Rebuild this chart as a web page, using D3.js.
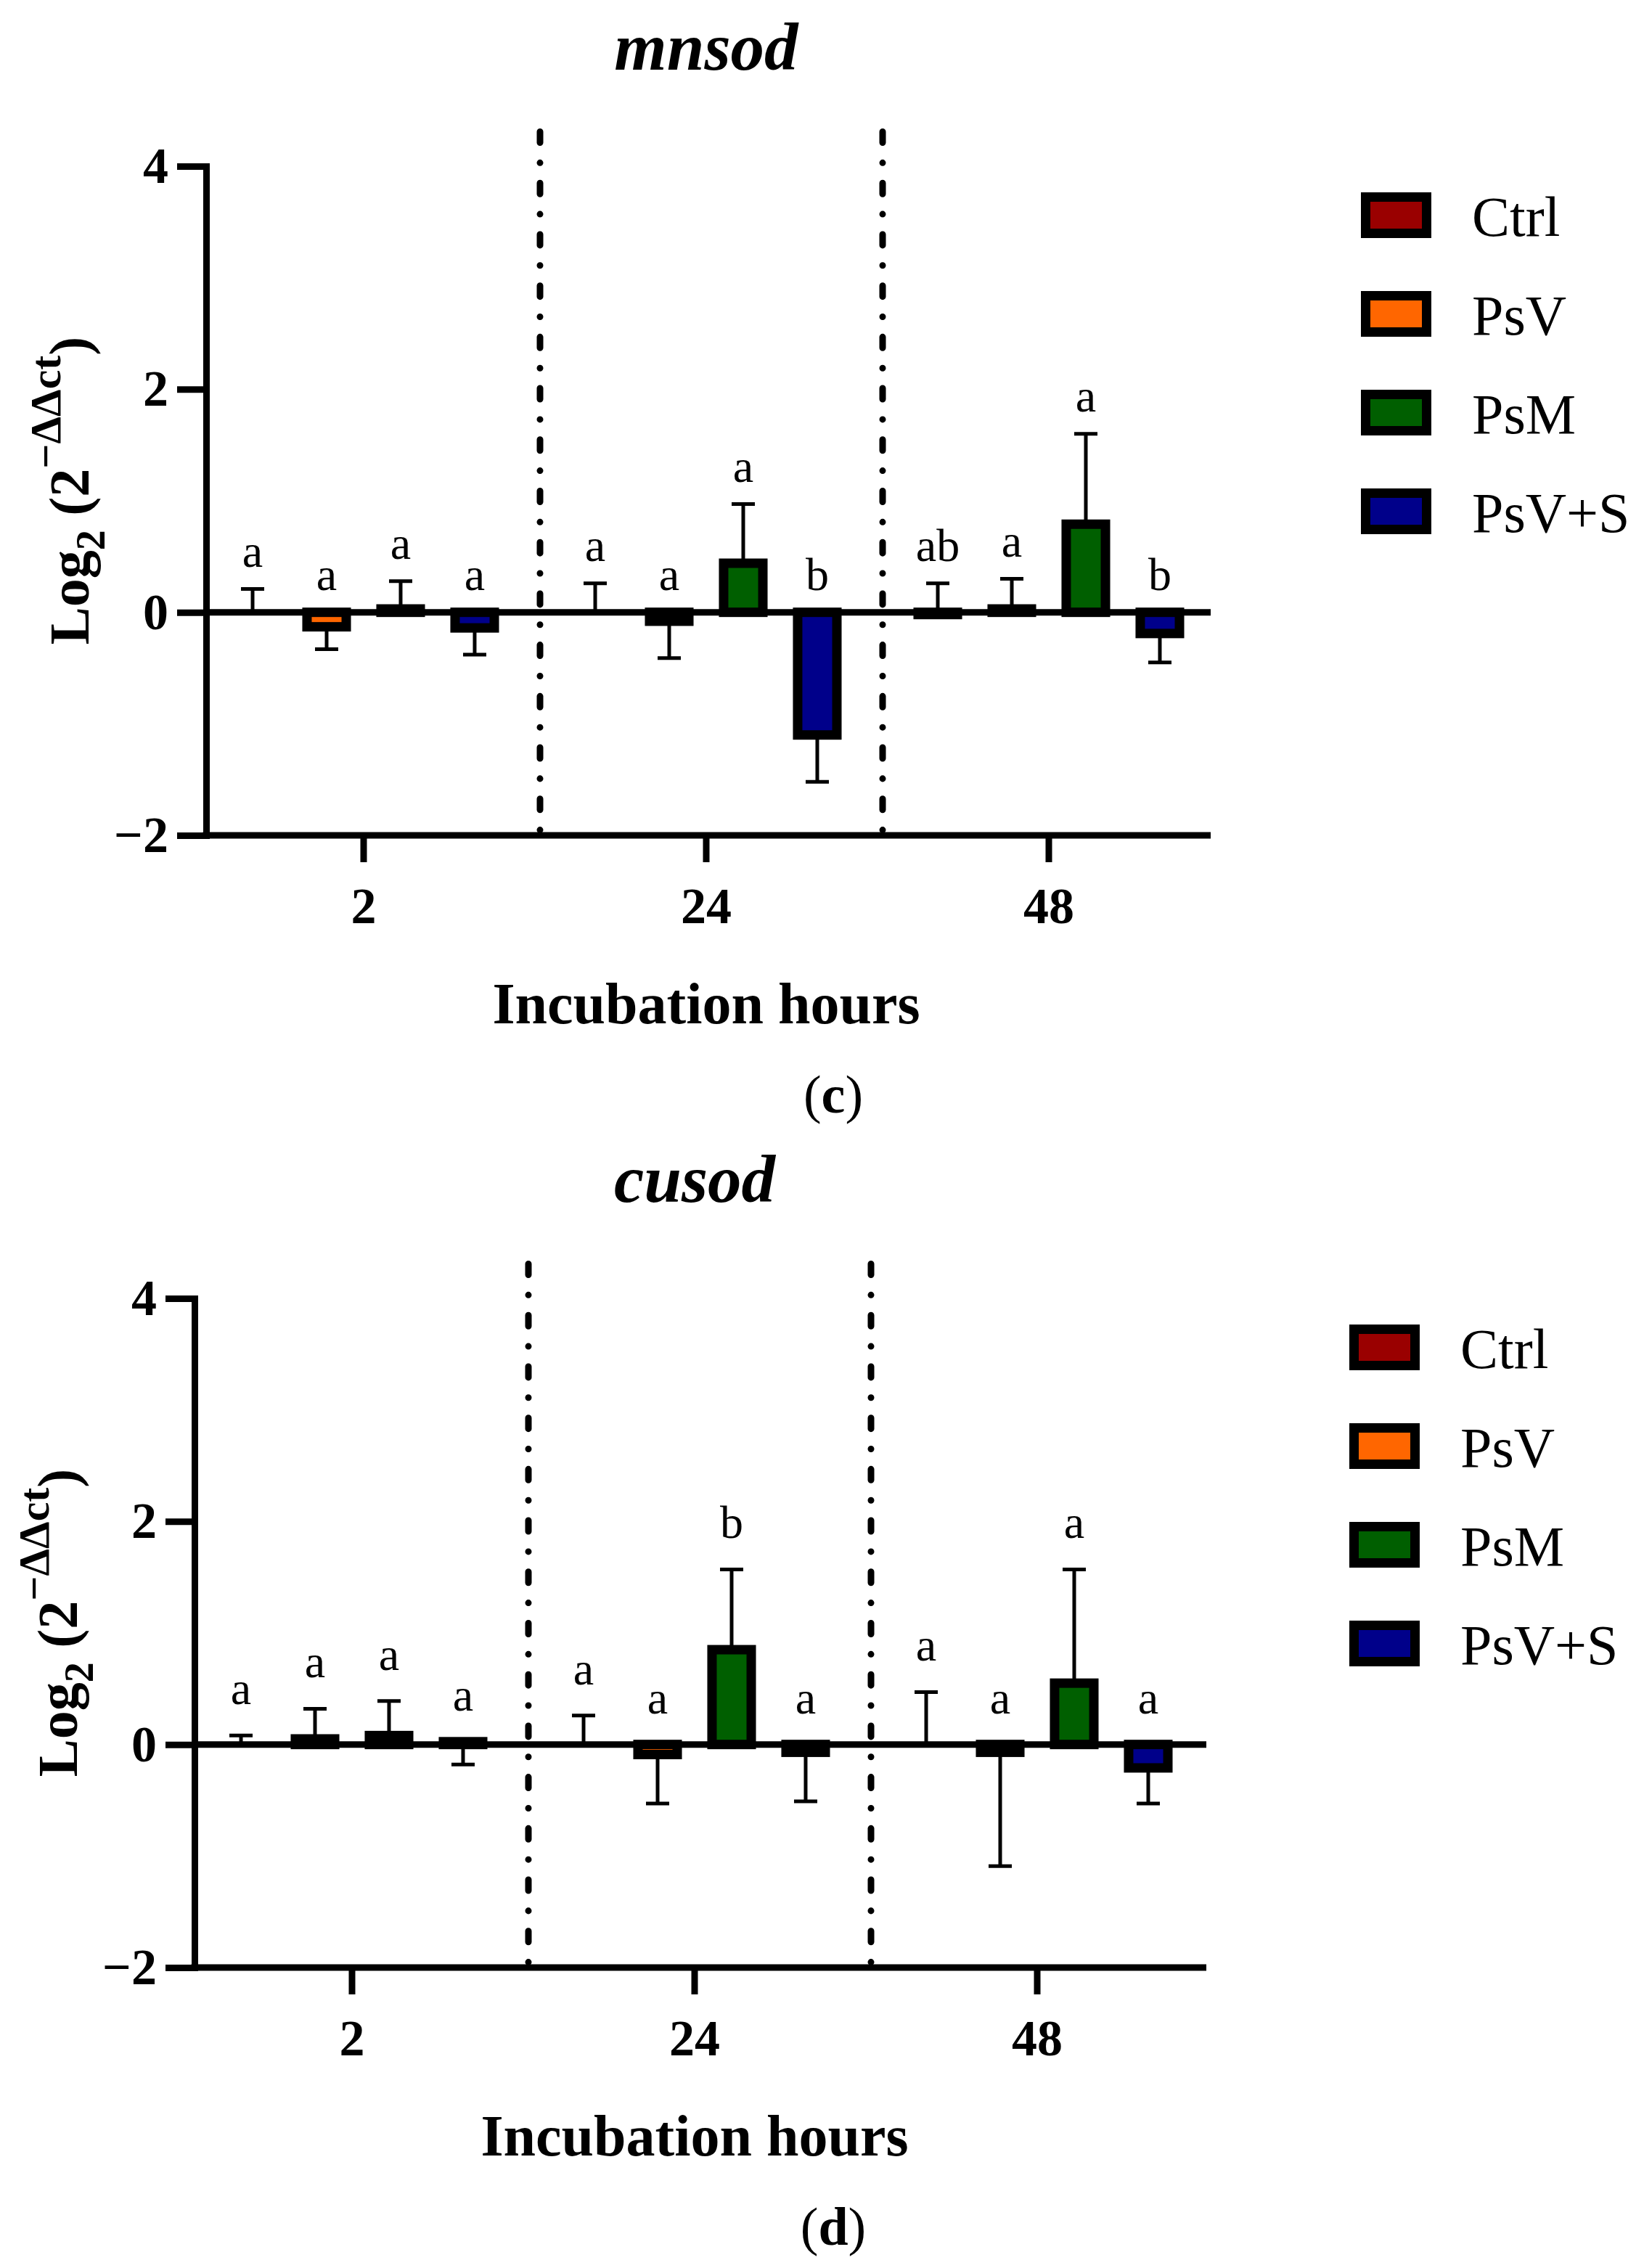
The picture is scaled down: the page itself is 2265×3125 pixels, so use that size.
<!DOCTYPE html>
<html>
<head>
<meta charset="utf-8">
<script src="https://cdn.jsdelivr.net/npm/d3@7"></script>
<style>
  html, body { margin: 0; padding: 0; background: #fff; }
  svg { display: block; }
  text { font-family: "Liberation Serif", "Times New Roman", serif; fill: #000; }
</style>
</head>
<body>
<div id="chart"></div>
<script>
// ---------------- data ----------------
const hours = ["2", "24", "48"];
const treatments = ["Ctrl", "PsV", "PsM", "PsV+S"];
const treatmentColors = ["#9a0000", "#ff6600", "#005f00", "#00008a"];
const yTickValues = [4, 2, 0, -2];

// mnsod (panel c): mean per hour x treatment, error-bar end, significance letters
const mnsodMean = [
  [0, -0.13, 0.03, -0.14],
  [0, -0.08, 0.44, -1.10],
  [-0.02, 0.03, 0.79, -0.19]
];
const mnsodErrEnd = [
  [0.21, -0.33, 0.28, -0.38],
  [0.26, -0.41, 0.97, -1.52],
  [0.26, 0.30, 1.60, -0.45]
];
const mnsodLetters = [
  ["a", "a", "a", "a"],
  ["a", "a", "a", "b"],
  ["ab", "a", "a", "b"]
];

// cusod (panel d)
const cusodMean = [
  [0, 0.05, 0.08, 0.025],
  [0, -0.09, 0.85, -0.07],
  [0, -0.07, 0.55, -0.21]
];
const cusodErrEnd = [
  [0.08, 0.32, 0.39, -0.18],
  [0.26, -0.53, 1.57, -0.51],
  [0.47, -1.09, 1.57, -0.53]
];
const cusodLetters = [
  ["a", "a", "a", "a"],
  ["a", "a", "b", "a"],
  ["a", "a", "a", "a"]
];

// ---------------- drawing ----------------
const W = 2265, H = 3125;
const svg = d3.select("#chart").append("svg")
  .attr("width", W).attr("height", H)
  .attr("viewBox", `0 0 ${W} ${H}`);
svg.append("rect").attr("width", W).attr("height", H).attr("fill", "#fff");

function drawPanel(cfg) {
  const { title, mean, errEnd, letters, axisX, axisEnd, yTop, yBottom, caption, letterLift } = cfg;
  const g = svg.append("g");

  const y = d3.scaleLinear().domain([-2, 4]).range([yBottom, yTop]);
  const xg = d3.scaleBand().domain(hours).range([axisX - 19, axisX + 1397]).padding(0);
  const xi = d3.scaleBand().domain(treatments).range([0, xg.bandwidth()])
    .paddingInner(0.47).paddingOuter(0.549);
  const color = d3.scaleOrdinal().domain(treatments).range(treatmentColors);

  const rows = [];
  hours.forEach((h, hi) => treatments.forEach((t, ti) => {
    rows.push({ h, t, v: mean[hi][ti], e: errEnd[hi][ti], lab: letters[hi][ti] });
  }));
  const cx = d => xg(d.h) + xi(d.t) + xi.bandwidth() / 2;

  // dash-dot separators
  hours.slice(1).forEach(h => {
    g.append("line")
      .attr("x1", xg(h) + 7).attr("x2", xg(h) + 7)
      .attr("y1", y(4) - 47.5).attr("y2", y(-2))
      .attr("stroke", "#000").attr("stroke-width", 9)
      .attr("stroke-linecap", "round")
      .attr("stroke-dasharray", "15 27.85 0.01 27.85");
  });

  // error bars (under bars)
  const eb = g.append("g").attr("stroke", "#000").attr("stroke-width", 5);
  eb.selectAll("line.stem").data(rows).join("line").attr("class", "stem")
    .attr("x1", cx).attr("x2", cx)
    .attr("y1", d => y(d.v)).attr("y2", d => y(d.e));
  eb.selectAll("line.cap").data(rows).join("line").attr("class", "cap")
    .attr("x1", d => cx(d) - 16).attr("x2", d => cx(d) + 16)
    .attr("y1", d => y(d.e)).attr("y2", d => y(d.e));

  // zero line
  g.append("line")
    .attr("x1", axisX).attr("x2", axisEnd)
    .attr("y1", y(0)).attr("y2", y(0))
    .attr("stroke", "#000").attr("stroke-width", 9);

  // bars
  g.append("g").selectAll("rect").data(rows.filter(d => d.v !== 0)).join("rect")
    .attr("x", d => xg(d.h) + xi(d.t))
    .attr("width", xi.bandwidth())
    .attr("y", d => Math.min(y(d.v), y(0)))
    .attr("height", d => Math.abs(y(d.v) - y(0)))
    .attr("fill", d => color(d.t))
    .attr("stroke", "#000").attr("stroke-width", 13);

  // significance letters
  g.append("g").selectAll("text").data(rows).join("text")
    .attr("x", cx)
    .attr("y", d => y(Math.max(0, d.v, d.e) + letterLift))
    .attr("text-anchor", "middle")
    .attr("font-size", 64)
    .text(d => d.lab);

  // y axis
  const ya = g.append("g").attr("transform", `translate(${axisX},0)`)
    .call(d3.axisLeft(y).tickValues(yTickValues).tickFormat(d3.format("d"))
      .tickSize(40).tickSizeOuter(0).tickPadding(12));
  ya.select(".domain").attr("stroke", "#000").attr("stroke-width", 9).attr("stroke-linecap", "square");
  ya.selectAll(".tick line").attr("stroke", "#000").attr("stroke-width", 9);
  ya.selectAll(".tick text").attr("font-family", "Liberation Serif").attr("font-weight", "bold")
    .attr("font-size", 70).attr("fill", "#000");

  // x axis
  g.append("line")
    .attr("x1", axisX - 4.5).attr("x2", axisEnd)
    .attr("y1", y(-2)).attr("y2", y(-2))
    .attr("stroke", "#000").attr("stroke-width", 9);
  const xa = g.append("g").attr("transform", `translate(0,${y(-2)})`)
    .call(d3.axisBottom(xg).tickSize(37).tickSizeOuter(0).tickPadding(34));
  xa.select(".domain").remove();
  xa.selectAll(".tick line").attr("stroke", "#000").attr("stroke-width", 9);
  xa.selectAll(".tick text").attr("font-family", "Liberation Serif").attr("font-weight", "bold")
    .attr("font-size", 70).attr("fill", "#000");

  const midX = xg("24") + xg.bandwidth() / 2;

  // title
  g.append("text")
    .attr("x", midX).attr("y", y(4) - 133)
    .attr("text-anchor", "middle")
    .attr("font-weight", "bold").attr("font-style", "italic")
    .attr("font-size", 93)
    .text(title);

  // x-axis title
  g.append("text")
    .attr("x", midX).attr("y", y(-2) + 259)
    .attr("text-anchor", "middle")
    .attr("font-weight", "bold").attr("font-size", 80)
    .text("Incubation hours");

  // y-axis title
  const yl = g.append("text")
    .attr("transform", `translate(${axisX - 162},${(y(4) + y(-2)) / 2 - 14}) rotate(-90)`)
    .attr("text-anchor", "middle")
    .attr("font-weight", "bold").attr("font-size", 78);
  yl.append("tspan").text("Log");
  yl.append("tspan").attr("font-size", 56).attr("dy", 22).text("2");
  yl.append("tspan").attr("dy", -22).text(" (2");
  yl.append("tspan").attr("font-size", 60).attr("dy", -39).text("−ΔΔct");
  yl.append("tspan").attr("dy", 39).text(")");

  // caption
  const cap = g.append("text")
    .attr("x", 1148).attr("y", y(-2) + 382)
    .attr("text-anchor", "middle").attr("font-size", 74);
  cap.append("tspan").text("(");
  cap.append("tspan").attr("font-weight", "bold").text(caption);
  cap.append("tspan").text(")");

  // legend
  const lg = g.append("g");
  treatments.forEach((t, i) => {
    const ly = y(4) + 42.5 + i * 136;
    lg.append("rect")
      .attr("x", axisX + 1597.5).attr("y", ly)
      .attr("width", 84).attr("height", 50)
      .attr("fill", color(t)).attr("stroke", "#000").attr("stroke-width", 13);
    lg.append("text")
      .attr("x", axisX + 1744).attr("y", ly + 53)
      .attr("font-size", 78)
      .text(t);
  });
}

drawPanel({
  title: "mnsod", mean: mnsodMean, errEnd: mnsodErrEnd, letters: mnsodLetters,
  axisX: 284, axisEnd: 1668, yTop: 229, yBottom: 1151, caption: "c", letterLift: 0.2
});
drawPanel({
  title: "cusod", mean: cusodMean, errEnd: cusodErrEnd, letters: cusodLetters,
  axisX: 268, axisEnd: 1662, yTop: 1789, yBottom: 2711, caption: "d", letterLift: 0.28
});
</script>
</body>
</html>
